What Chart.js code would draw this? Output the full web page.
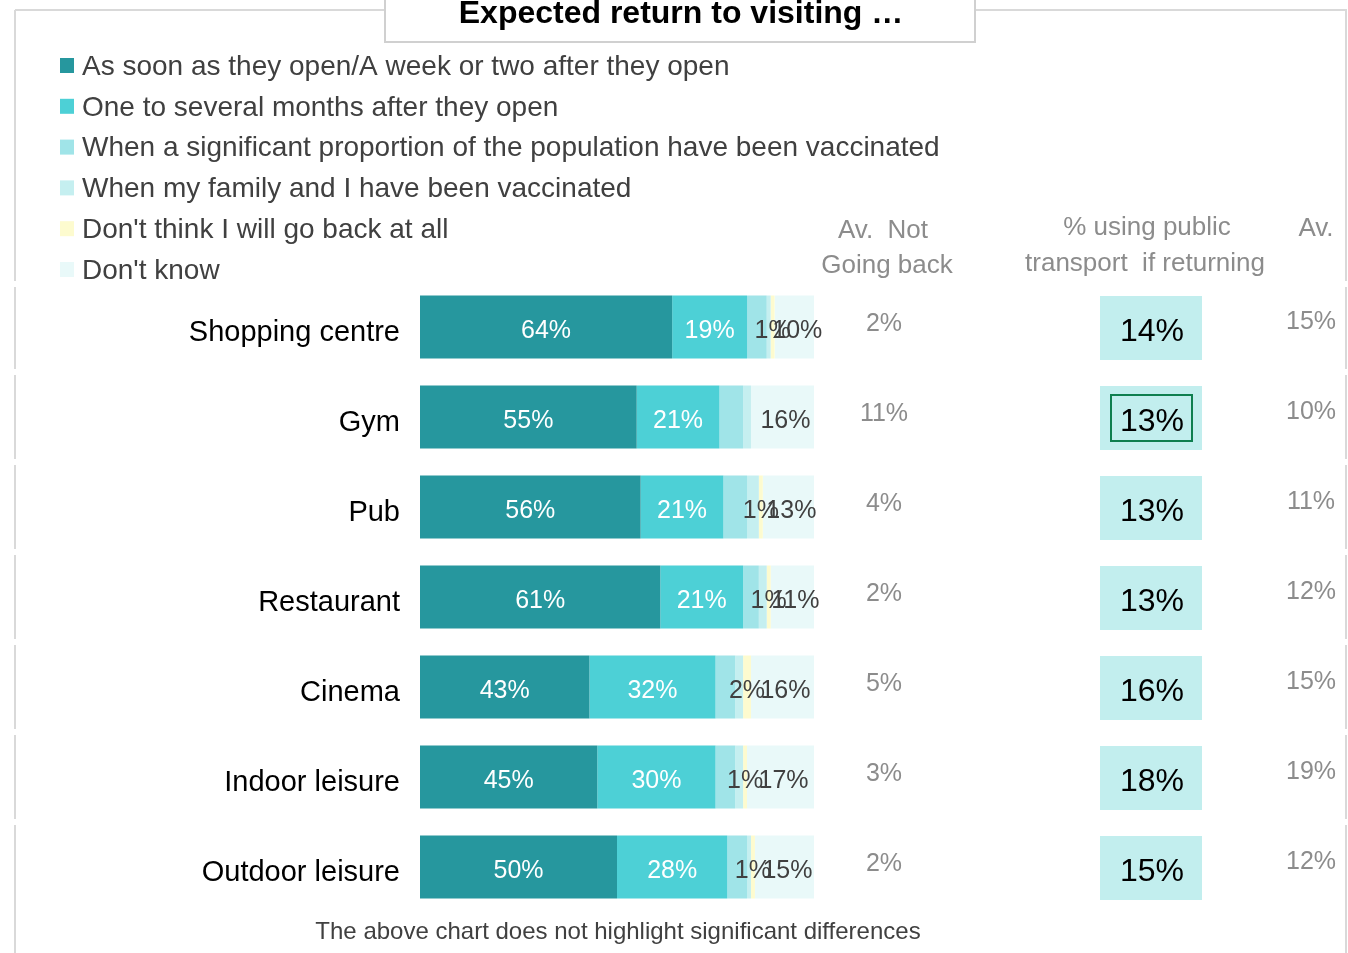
<!DOCTYPE html>
<html>
<head>
<meta charset="utf-8">
<script src="https://cdn.jsdelivr.net/npm/chart.js@4.4.1/dist/chart.umd.min.js"></script>
<style>
  html, body { margin: 0; padding: 0; background: #fff; }
  #wrap { width: 1348px; height: 953px; position: relative; }
</style>
</head>
<body>
<div id="wrap"><canvas id="grafico" width="1348" height="953"></canvas></div>
<script>
const titulo = 'Expected return to visiting …';
const categorias = ['Shopping centre', 'Gym', 'Pub', 'Restaurant', 'Cinema', 'Indoor leisure', 'Outdoor leisure'];
const nomesSeries = [
    'As soon as they open/A week or two after they open',
    'One to several months after they open',
    'When a significant proportion of the population have been vaccinated',
    'When my family and I have been vaccinated',
    "Don't think I will go back at all",
    "Don't know"
];
const assimQueAbrir = [64, 55, 56, 61, 43, 45, 50];
const umAVariosMeses = [19, 21, 21, 21, 32, 30, 28];
const vacinacaoGeral = [5, 6, 6, 4, 5, 5, 5];
const familiaVacinada = [1, 2, 3, 2, 2, 2, 1];
const naoVolta = [1, 0, 1, 1, 2, 1, 1];
const naoSabe = [10, 16, 13, 11, 16, 17, 15];

const mediaNaoVolta = ['2%', '11%', '4%', '2%', '5%', '3%', '2%'];
const transportePublico = ['14%', '13%', '13%', '13%', '16%', '18%', '15%'];
const mediaTransporte = ['15%', '10%', '11%', '12%', '15%', '19%', '12%'];
const destaque = [false, true, false, false, false, false, false];

const cores = ['#26979e', '#4dd0d6', '#a0e4e8', '#c5eff0', '#fdfbcf', '#e9f9f9'];
const rotuloCor = ['#ffffff', '#ffffff', null, null, '#404040', '#404040'];
const fonte = '"Liberation Sans", Arial, sans-serif';

// moldura, título, legenda e colunas extras
const extras = {
    id: 'extras',
    beforeDraw(chart) {
        const ctx = chart.ctx;
        const y = chart.scales.y;
        ctx.save();
        ctx.strokeStyle = '#d9d9d9';
        ctx.lineWidth = 2;
        ctx.beginPath();
        ctx.moveTo(15, 10); ctx.lineTo(385, 10);
        ctx.moveTo(975, 10); ctx.lineTo(1347, 10);
        ctx.stroke();
        // bordas laterais com pequenas quebras entre linhas
        const cortes = [10, 284];
        categorias.forEach((c, i) => cortes.push(y.getPixelForValue(i) + 45));
        cortes[cortes.length - 1] = 956;
        ctx.beginPath();
        for (let k = 0; k < cortes.length - 1; k++) {
            const a = cortes[k] + (k ? 3 : 0), b = cortes[k + 1] - 3;
            ctx.moveTo(15, a); ctx.lineTo(15, b);
            ctx.moveTo(1346, a); ctx.lineTo(1346, b);
        }
        ctx.stroke();

        // caixa do título
        ctx.fillStyle = '#ffffff';
        ctx.fillRect(385, -2, 590, 44);
        ctx.strokeStyle = '#d0d0d0';
        ctx.strokeRect(385, -2, 590, 44);
        ctx.fillStyle = '#000';
        ctx.font = 'bold 32px ' + fonte;
        ctx.textAlign = 'center';
        ctx.textBaseline = 'middle';
        ctx.fillText(titulo, 681, 14);

        // legenda
        ctx.textAlign = 'left';
        ctx.font = '28px ' + fonte;
        chart.data.datasets.forEach((ds, i) => {
            const ly = 66 + i * 40.8;
            ctx.fillStyle = ds.backgroundColor;
            ctx.fillRect(60, ly - 8, 14, 15);
            ctx.fillStyle = '#404040';
            ctx.fillText(ds.label, 82, ly + 1);
        });

        // cabeçalhos
        ctx.fillStyle = '#8c8c8c';
        ctx.font = '26px ' + fonte;
        ctx.textAlign = 'center';
        ctx.fillText('Av.  Not', 883, 231);
        ctx.fillText('Going back', 887, 266);
        ctx.fillText('% using public', 1147, 228);
        ctx.fillText('transport  if returning', 1145, 264);
        ctx.fillText('Av.', 1316, 229);

        // colunas de valores
        categorias.forEach((c, i) => {
            const cy = y.getPixelForValue(i);
            ctx.fillStyle = '#8c8c8c';
            ctx.font = '25px ' + fonte;
            ctx.fillText(mediaNaoVolta[i], 884, cy - 3);
            ctx.fillText(mediaTransporte[i], 1311, cy - 5);
            ctx.fillStyle = '#c2eeee';
            ctx.fillRect(1100, cy - 31, 102, 64);
            if (destaque[i]) {
                ctx.strokeStyle = '#0e7f4f';
                ctx.lineWidth = 2;
                ctx.strokeRect(1111, cy - 22, 81, 46);
            }
            ctx.fillStyle = '#000';
            ctx.font = '32px ' + fonte;
            ctx.fillText(transportePublico[i], 1152, cy + 5);
        });

        // nota de rodapé
        ctx.fillStyle = '#404040';
        ctx.font = '24px ' + fonte;
        ctx.fillText('The above chart does not highlight significant differences', 618, 932);
        ctx.restore();
    },
    afterDatasetsDraw(chart) {
        const ctx = chart.ctx;
        ctx.save();
        ctx.font = '25px ' + fonte;
        ctx.textAlign = 'center';
        ctx.textBaseline = 'middle';
        chart.data.datasets.forEach((ds, d) => {
            if (!rotuloCor[d]) return;
            chart.getDatasetMeta(d).data.forEach((bar, i) => {
                const v = ds.data[i];
                if (!v) return;
                const p = bar.getCenterPoint();
                ctx.fillStyle = rotuloCor[d];
                ctx.fillText(v + '%', p.x + (d === 5 ? 3 : 0), p.y + 4);
            });
        });
        ctx.restore();
    }
};

const series = [assimQueAbrir, umAVariosMeses, vacinacaoGeral, familiaVacinada, naoVolta, naoSabe];

new Chart(document.getElementById('grafico'), {
    type: 'bar',
    data: {
        labels: categorias,
        datasets: series.map((s, i) => ({
            label: nomesSeries[i],
            data: s,
            backgroundColor: cores[i],
            borderWidth: 0,
            categoryPercentage: 1,
            barPercentage: 0.7
        }))
    },
    options: {
        indexAxis: 'y',
        responsive: false,
        animation: false,
        events: [],
        layout: { padding: { left: 0, right: 534, top: 282, bottom: 41 } },
        scales: {
            x: { stacked: true, min: 0, max: 100, display: false },
            y: {
                stacked: true,
                grid: { display: false },
                border: { display: false },
                ticks: { color: '#000', font: { size: 29, family: fonte }, padding: 12, labelOffset: 6 },
                afterFit(scale) { scale.width = 420; }
            }
        },
        plugins: {
            legend: { display: false },
            title: { display: false },
            tooltip: { enabled: false }
        }
    },
    plugins: [extras]
});
</script>
</body>
</html>
